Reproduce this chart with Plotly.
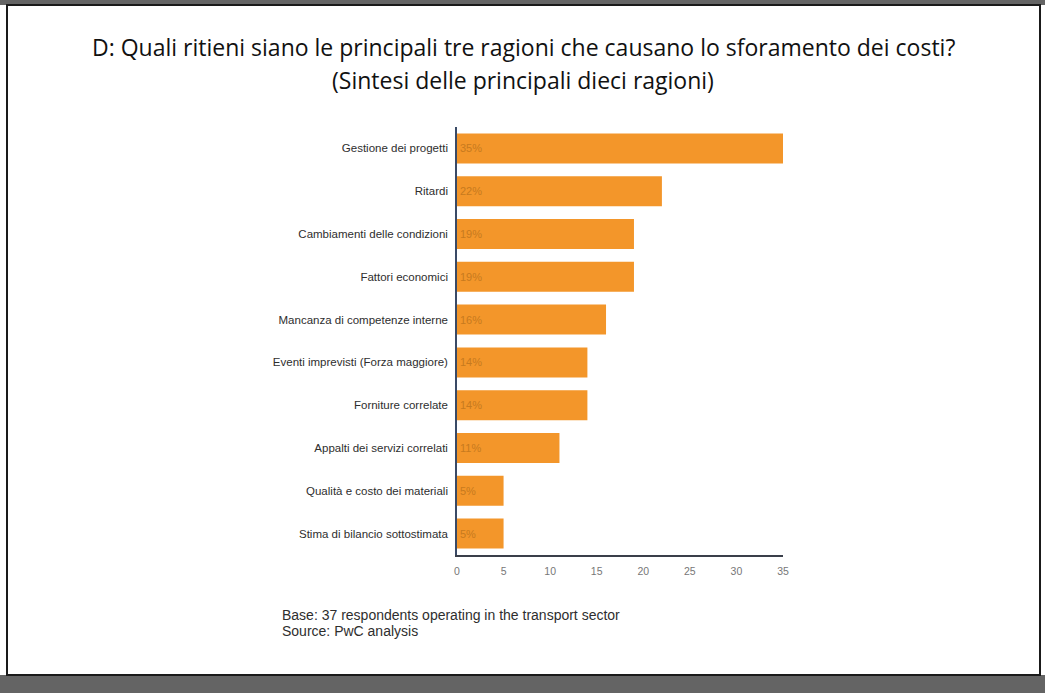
import plotly.graph_objects as go

categories = [
    "Gestione dei progetti",
    "Ritardi",
    "Cambiamenti delle condizioni",
    "Fattori economici",
    "Mancanza di competenze interne",
    "Eventi imprevisti (Forza maggiore)",
    "Forniture correlate",
    "Appalti dei servizi correlati",
    "Qualità e costo dei materiali",
    "Stima di bilancio sottostimata",
]
values = [35, 22, 19, 19, 16, 14, 14, 11, 5, 5]
value_labels = [f"{v}%" for v in values]
tick_vals = [0, 5, 10, 15, 20, 25, 30, 35]

title_line1 = "D: Quali ritieni siano le principali tre ragioni che causano lo sforamento dei costi?"
title_line2 = "(Sintesi delle principali dieci ragioni)"
note1 = "Base: 37 respondents operating in the transport sector"
note2 = "Source: PwC analysis"

W, H = 1045, 693
L, R, T, B = 457, 783, 127, 555


def px(x):
    return (x - L) / (R - L)


def py(y):
    return (B - y) / (B - T)


fig = go.Figure(
    go.Bar(
        x=values,
        y=categories,
        orientation="h",
        marker=dict(color="#F3962A", line=dict(width=0)),
        text=value_labels,
        textposition="inside",
        insidetextanchor="start",
        textfont=dict(family="Arial, Liberation Sans", size=11, color="#C77A1E"),
        width=0.7,
    )
)

fig.update_layout(
    width=W,
    height=H,
    margin=dict(l=L, r=W - R, t=T, b=H - B, pad=0),
    paper_bgcolor="white",
    plot_bgcolor="white",
    showlegend=False,
    xaxis=dict(
        range=[0, 35],
        tickvals=tick_vals,
        showgrid=False,
        zeroline=False,
        showline=True,
        linecolor="#3a3f4a",
        linewidth=1.5,
        ticks="",
        tickfont=dict(family="Arial, Liberation Sans", size=10.5, color="#777777"),
        ticklabelstandoff=6,
        fixedrange=True,
    ),
    yaxis=dict(
        autorange="reversed",
        showgrid=False,
        zeroline=False,
        showline=True,
        linecolor="#3a4a66",
        linewidth=1.5,
        ticks="",
        tickfont=dict(family="Arial, Liberation Sans", size=11.5, color="#2e2e2e"),
        ticklabelstandoff=5,
        fixedrange=True,
    ),
    shapes=[
        dict(type="rect", xref="paper", yref="paper",
             x0=px(0), x1=px(W), y0=py(5), y1=py(0),
             fillcolor="#646464", line=dict(width=0), layer="below"),
        dict(type="rect", xref="paper", yref="paper",
             x0=px(0), x1=px(W), y0=py(H), y1=py(675),
             fillcolor="#646464", line=dict(width=0), layer="below"),
        dict(type="rect", xref="paper", yref="paper",
             x0=px(7), x1=px(1040), y0=py(675), y1=py(5),
             fillcolor="rgba(0,0,0,0)", line=dict(color="#1a1a1a", width=2), layer="below"),
    ],
    annotations=[
        dict(text=title_line1, xref="paper", yref="paper", x=px(523), y=py(47),
             xanchor="center", yanchor="middle", showarrow=False,
             font=dict(family="Open Sans, Lato", size=23, color="#111111")),
        dict(text=title_line2, xref="paper", yref="paper", x=px(523), y=py(80),
             xanchor="center", yanchor="middle", showarrow=False,
             font=dict(family="Open Sans, Lato", size=23, color="#111111")),
        dict(text=note1, xref="paper", yref="paper", x=px(280), y=py(615),
             xanchor="left", yanchor="middle", showarrow=False,
             font=dict(family="Arial, Liberation Sans", size=14, color="#2e2e2e")),
        dict(text=note2, xref="paper", yref="paper", x=px(280), y=py(631),
             xanchor="left", yanchor="middle", showarrow=False,
             font=dict(family="Arial, Liberation Sans", size=14, color="#2e2e2e")),
    ],
)

fig.write_html("out.html", config={"displayModeBar": False})
